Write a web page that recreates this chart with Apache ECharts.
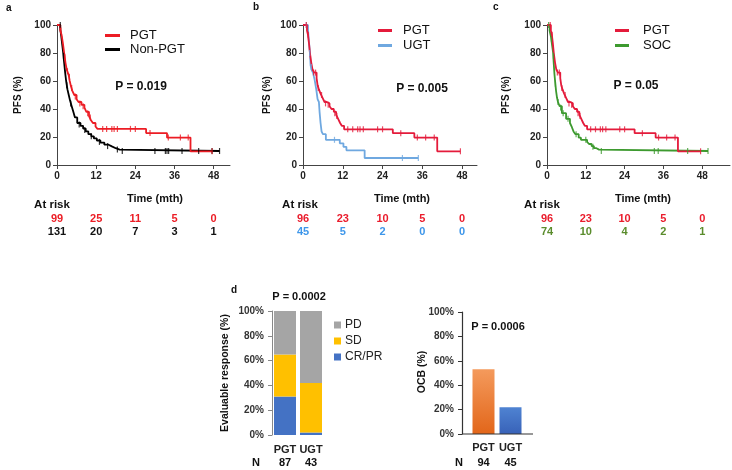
<!DOCTYPE html>
<html><head><meta charset="utf-8">
<script src="https://cdn.jsdelivr.net/npm/echarts@6/dist/echarts.min.js"></script>
<style>html,body{margin:0;padding:0;background:#fff}#c{width:732px;height:470px}</style>
</head><body><div id="c"></div>
<script>
// ---------- data ----------
const timeTicks = [0, 12, 24, 36, 48];
// Panel a: PGT vs Non-PGT (Kaplan-Meier step points [month, PFS %])
const pgtA = [[0,100],[1.0,96],[1.4,93],[1.8,87],[2.2,80],[2.6,73],[3.0,68],[3.6,64],[3.9,60],[4.3,56],[4.7,53],[5.3,50],[6.0,47],[6.6,45],[7.5,43],[8.4,41],[9.0,38],[9.8,35],[10.4,32],[11.0,30],[11.8,27.5],[12.4,25.8],[27.3,22.8],[33.7,19.6],[40.9,9.8],[47.6,9.8]];
const pgtACens = [[1.2,96],[2.4,77],[3.2,67],[3.8,63],[4.5,55],[5.6,49],[7.0,44],[8.0,42],[9.4,37],[10.2,34],[14.0,25.8],[15.2,25.8],[16.8,25.8],[17.5,25.8],[18.5,25.8],[22.5,25.8],[24.0,25.8],[28.5,22.8],[34.1,19.6],[37.8,19.6],[40.2,19.6],[47.5,9.8]];
const nonPgt = [[0,100],[1.0,97],[1.3,92],[1.6,86],[1.9,80],[2.2,73],[2.5,66],[2.8,60],[3.2,54],[3.6,50],[4.0,46],[4.5,42],[5.0,38],[5.5,34],[6.2,30],[7.2,28],[8.0,26],[8.8,24],[9.6,22],[10.5,20.5],[11.3,19],[12.2,17.5],[13.3,16],[14.5,14.5],[15.8,13.3],[16.8,12],[18.0,11],[19.2,10],[49.8,10]];
const nonPgtCens = [[1.0,100],[2.0,78],[3.0,57],[4.2,44],[6.8,29],[8.5,25],[10.5,20.5],[13.0,16.5],[15.5,13.5],[18.5,11],[20.0,10],[30.0,10],[33.2,10],[33.7,10],[34.2,10],[38.3,10],[43.4,10],[47.5,10],[49.8,10]];
// Panels b, c: PGT (n=96)
const pgtBC = [[0,100],[1.2,96],[1.5,93],[1.8,87],[2.1,80],[2.5,73],[2.9,68],[3.4,66],[4.1,62],[4.4,57],[4.8,54],[5.3,51],[5.9,48],[6.5,45],[7.2,44],[8.0,42],[8.6,40],[9.3,38],[10.0,36],[10.6,33],[11.2,30],[11.7,28],[12.4,25.5],[27.1,22.7],[33.6,19.6],[40.5,9.8],[47.5,9.8]];
const pgtBCCens = [[1.0,100],[1.6,93],[3.2,66],[3.8,66],[4.6,55],[5.6,50],[6.8,44],[7.6,43],[9.6,37],[10.2,35],[13.5,25.5],[15.0,25.5],[16.5,25.5],[17.2,25.5],[18.2,25.5],[22.5,25.5],[24.0,25.5],[29.5,22.7],[34.5,19.6],[37.0,19.6],[39.6,19.6],[47.5,9.8]];
// Panel b: UGT
const ugt = [[0,100],[1.5,97],[1.8,88],[2.1,80],[2.3,71],[2.6,68],[3.0,66],[3.5,61],[4.0,54],[4.4,47],[4.8,45],[5.0,38],[5.3,30],[5.6,24],[6.0,22],[6.9,18],[11.1,15.5],[12.2,13],[13.1,10.5],[18.6,5],[34.8,5]];
const ugtCens = [[1.0,100],[2.0,80],[2.5,70],[9.5,18],[30.0,5],[34.8,5]];
// Panel c: SOC
const soc = [[0,100],[0.8,96],[1.2,92],[1.6,85],[1.9,80],[2.1,72],[2.3,65],[2.5,60],[2.8,53],[3.1,48],[3.4,45],[3.9,42],[4.6,37],[5.9,33],[7.1,30],[7.7,27],[8.2,24],[8.8,22],[9.8,19.5],[10.5,18],[12.4,16.5],[13.0,15],[13.8,13.5],[14.5,12],[15.3,11],[16.1,10],[49.8,10]];
const socCens = [[0.5,100],[1.4,90],[2.0,78],[2.6,58],[3.4,45],[4.2,41],[5.0,37],[6.5,33],[9.0,22],[12.0,18],[14.2,13],[16.8,10],[33.2,10],[34.4,10],[43.5,10],[49.8,10]];
// Numbers at risk
const riskA_PGT = [99, 25, 11, 5, 0];
const riskA_Non = [131, 20, 7, 3, 1];
const riskB_PGT = [96, 23, 10, 5, 0];
const riskB_UGT = [45, 5, 2, 0, 0];
const riskC_PGT = [96, 23, 10, 5, 0];
const riskC_SOC = [74, 10, 4, 2, 1];
// Panel d
const respGroups = ['PGT', 'UGT'];
const respCRPR = [31, 2];
const respSD = [34, 40];
const respPD = [35, 58];
const respN = [87, 43];
const ocbGroups = ['PGT', 'UGT'];
const ocbVals = [53, 22];
const ocbN = [94, 45];

// ---------- chart ----------
const FONT = '"Liberation Sans", Arial, sans-serif';
const AX = '#444';
const chart = echarts.init(document.getElementById('c'));

const kmGrids = [
  {left: 57, top: 25, width: 173, height: 140, max: 53},
  {left: 303, top: 25, width: 174, height: 140, max: 52.5},
  {left: 547, top: 25, width: 183, height: 140, max: 56.6}
];
const grid = kmGrids.map(g => ({left: g.left, top: g.top, width: g.width, height: g.height}));
grid.push({left: 272, top: 311, width: 52, height: 124});
grid.push({left: 470, top: 312, width: 54, height: 122});

const xAxis = kmGrids.map((g, i) => ({
  gridIndex: i, type: 'value', min: 0, max: g.max,
  axisLine: {lineStyle: {color: AX, width: 1}},
  axisTick: {show: true, length: 4, customValues: timeTicks, lineStyle: {color: AX}},
  axisLabel: {customValues: timeTicks, fontSize: 10, fontWeight: 'bold', color: '#222', margin: 6, fontFamily: FONT},
  splitLine: {show: false}
}));
xAxis.push({gridIndex: 3, type: 'category', data: respGroups,
  axisLine: {show: false}, axisTick: {show: false},
  axisLabel: {interval: 0, hideOverlap: false, fontSize: 11, fontWeight: 'bold', color: '#222', margin: 9, fontFamily: FONT}});
xAxis.push({gridIndex: 4, type: 'category', data: ocbGroups,
  axisLine: {show: false}, axisTick: {show: false},
  axisLabel: {interval: 0, hideOverlap: false, fontSize: 11, fontWeight: 'bold', color: '#222', margin: 8, fontFamily: FONT}});

const yAxis = kmGrids.map((g, i) => ({
  gridIndex: i, type: 'value', min: 0, max: 100, interval: 20,
  axisLine: {show: true, lineStyle: {color: AX, width: 1}},
  axisTick: {show: true, length: 4, lineStyle: {color: AX}},
  axisLabel: {fontSize: 10, fontWeight: 'bold', color: '#222', margin: 6, fontFamily: FONT},
  splitLine: {show: false}
}));
yAxis.push({gridIndex: 3, type: 'value', min: 0, max: 100, interval: 20,
  axisLine: {show: true, lineStyle: {color: '#888', width: 1}},
  axisTick: {show: true, length: 4, lineStyle: {color: '#888'}},
  axisLabel: {formatter: '{value}%', fontSize: 10, fontWeight: 'bold', color: '#333', margin: 8, fontFamily: FONT},
  splitLine: {show: false}});
yAxis.push({gridIndex: 4, type: 'value', min: 0, max: 100, interval: 20, offset: 8,
  axisLine: {show: true, lineStyle: {color: '#333', width: 1.2}},
  axisTick: {show: true, length: 4, lineStyle: {color: '#333'}},
  axisLabel: {formatter: '{value}%', fontSize: 10, fontWeight: 'bold', color: '#333', margin: 8, fontFamily: FONT},
  splitLine: {show: false}});

function kmLine(name, data, idx, color) {
  return {type: 'line', name, data, xAxisIndex: idx, yAxisIndex: idx, step: 'end',
    symbol: 'none', showSymbol: false, lineStyle: {width: 1.8, color}, itemStyle: {color},
    silent: true, animation: false, z: 3};
}
function kmCens(name, data, idx, color) {
  return {type: 'scatter', name, data, xAxisIndex: idx, yAxisIndex: idx,
    symbol: 'rect', symbolSize: [1.2, 6], itemStyle: {color}, silent: true, animation: false, z: 4};
}
const RED_A = '#ec1c24', RED_B = '#e41b3b', BLUE = '#6fa8e0', GREEN = '#3d9a2f';

const series = [
  kmLine('Non-PGT', nonPgt, 0, '#000'), kmCens('cens-non', nonPgtCens, 0, '#000'),
  kmLine('PGT·a', pgtA, 0, RED_A), kmCens('cens-pgta', pgtACens, 0, RED_A),
  kmLine('UGT·b', ugt, 1, BLUE), kmCens('cens-ugt', ugtCens, 1, BLUE),
  kmLine('PGT·b', pgtBC, 1, RED_B), kmCens('cens-pgtb', pgtBCCens, 1, RED_B),
  kmLine('SOC', soc, 2, GREEN), kmCens('cens-soc', socCens, 2, GREEN),
  kmLine('PGT·c', pgtBC, 2, RED_B), kmCens('cens-pgtc', pgtBCCens, 2, RED_B),
  {type: 'bar', name: 'CR/PR', stack: 'r', data: respCRPR, xAxisIndex: 3, yAxisIndex: 3, barWidth: 22, itemStyle: {color: '#4472c4'}, animation: false, silent: true},
  {type: 'bar', name: 'SD', stack: 'r', data: respSD, xAxisIndex: 3, yAxisIndex: 3, barWidth: 22, itemStyle: {color: '#ffc000'}, animation: false, silent: true},
  {type: 'bar', name: 'PD', stack: 'r', data: respPD, xAxisIndex: 3, yAxisIndex: 3, barWidth: 22, itemStyle: {color: '#a5a5a5'}, animation: false, silent: true},
  {type: 'bar', name: 'OCB', xAxisIndex: 4, yAxisIndex: 4, barWidth: 22, animation: false, silent: true,
    data: [
      {value: ocbVals[0], itemStyle: {color: new echarts.graphic.LinearGradient(0, 0, 0, 1, [{offset: 0, color: '#f49a5c'}, {offset: 1, color: '#e2661a'}])}},
      {value: ocbVals[1], itemStyle: {color: new echarts.graphic.LinearGradient(0, 0, 0, 1, [{offset: 0, color: '#4f83d2'}, {offset: 1, color: '#3862b8'}])}}
    ]}
];

const legBase = {orient: 'vertical', icon: 'rect', itemWidth: 15, itemHeight: 3, selectedMode: false,
  formatter: n => n.split('·')[0]};
const legend = [
  Object.assign({}, legBase, {data: ['PGT·a', 'Non-PGT'], left: 100, top: 24, itemGap: 1,
    textStyle: {fontSize: 13, color: '#111', fontFamily: FONT, padding: [0, 0, 0, 5]}}),
  Object.assign({}, legBase, {data: ['PGT·b', 'UGT·b'], left: 373, top: 19, itemGap: 2, itemWidth: 14,
    textStyle: {fontSize: 13, color: '#111', fontFamily: FONT, padding: [0, 0, 0, 6]}}),
  Object.assign({}, legBase, {data: ['PGT·c', 'SOC'], left: 610, top: 19, itemGap: 2, itemWidth: 14,
    textStyle: {fontSize: 13, color: '#111', fontFamily: FONT, padding: [0, 0, 0, 9]}}),
  {orient: 'vertical', icon: 'rect', itemWidth: 7, itemHeight: 7, selectedMode: false,
    data: ['PD', 'SD', 'CR/PR'], left: 329, top: 314, itemGap: 4,
    textStyle: {fontSize: 12, color: '#222', fontFamily: FONT, padding: [0, 0, 0, -1]}}
];

chart.setOption({animation: false, backgroundColor: '#fff', grid, xAxis, yAxis, series, legend});

// ---------- text annotations ----------
function txt(text, x, y, opt) {
  opt = opt || {};
  return {type: 'text', x, y, rotation: opt.rot || 0, silent: true, z: 10,
    style: {text, fill: opt.color || '#111', font: (opt.weight || 'bold') + ' ' + (opt.size || 11) + 'px ' + FONT,
      align: opt.align || 'center', verticalAlign: 'middle'}};
}
const g = [];
g.push(txt('a', 6, 8, {size: 10, align: 'left'}));
g.push(txt('b', 253, 7, {size: 10, align: 'left'}));
g.push(txt('c', 493, 7, {size: 10, align: 'left'}));
g.push(txt('d', 231, 290, {size: 10, align: 'left'}));
g.push(txt('P = 0.019', 141, 87, {size: 12}));
g.push(txt('P = 0.005', 422, 89, {size: 12}));
g.push(txt('P = 0.05', 636, 86, {size: 12}));
[[18, 95], [267, 95], [506, 95]].forEach(p => g.push(txt('PFS (%)', p[0], p[1], {size: 10, rot: Math.PI / 2})));
[155, 402, 643].forEach(x => g.push(txt('Time (mth)', x, 199, {size: 11})));
[52, 300, 542].forEach(x => g.push(txt('At risk', x, 205, {size: 11.5})));
g.push(txt('Evaluable response (%)', 225, 373, {size: 10.5, rot: Math.PI / 2}));
g.push(txt('OCB (%)', 422, 372, {size: 10.5, rot: Math.PI / 2}));
g.push(txt('P = 0.0002', 299, 297, {size: 11}));
g.push(txt('P = 0.0006', 498, 327, {size: 11}));
g.push(txt('N', 256, 463, {size: 11}));
g.push(txt('N', 459, 463, {size: 11}));

const riskRows = [
  [0, riskA_PGT, RED_A, riskA_Non, '#111'],
  [1, riskB_PGT, '#ea1c2c', riskB_UGT, '#3d96ea'],
  [2, riskC_PGT, '#ea1c2c', riskC_SOC, '#5a8c2c']
];
riskRows.forEach(r => {
  timeTicks.forEach((t, i) => {
    const x = chart.convertToPixel({xAxisIndex: r[0]}, t);
    g.push(txt(String(r[1][i]), x, 219, {size: 11, color: r[2]}));
    g.push(txt(String(r[3][i]), x, 232, {size: 11, color: r[4]}));
  });
});
respGroups.forEach((c, i) => {
  const x = chart.convertToPixel({xAxisIndex: 3}, c);
  g.push(txt(String(respN[i]), x, 463, {size: 11}));
});
ocbGroups.forEach((c, i) => {
  const x = chart.convertToPixel({xAxisIndex: 4}, c);
  g.push(txt(String(ocbN[i]), x, 463, {size: 11}));
});
// baseline of OCB panel (axis line spanning beyond the bars)
const y0 = chart.convertToPixel({yAxisIndex: 4}, 0);
g.push({type: 'line', silent: true, z: 5, shape: {x1: 462, y1: y0, x2: 533, y2: y0}, style: {stroke: '#333', lineWidth: 1.2}});

chart.setOption({graphic: {elements: g}});
</script>
</body></html>
